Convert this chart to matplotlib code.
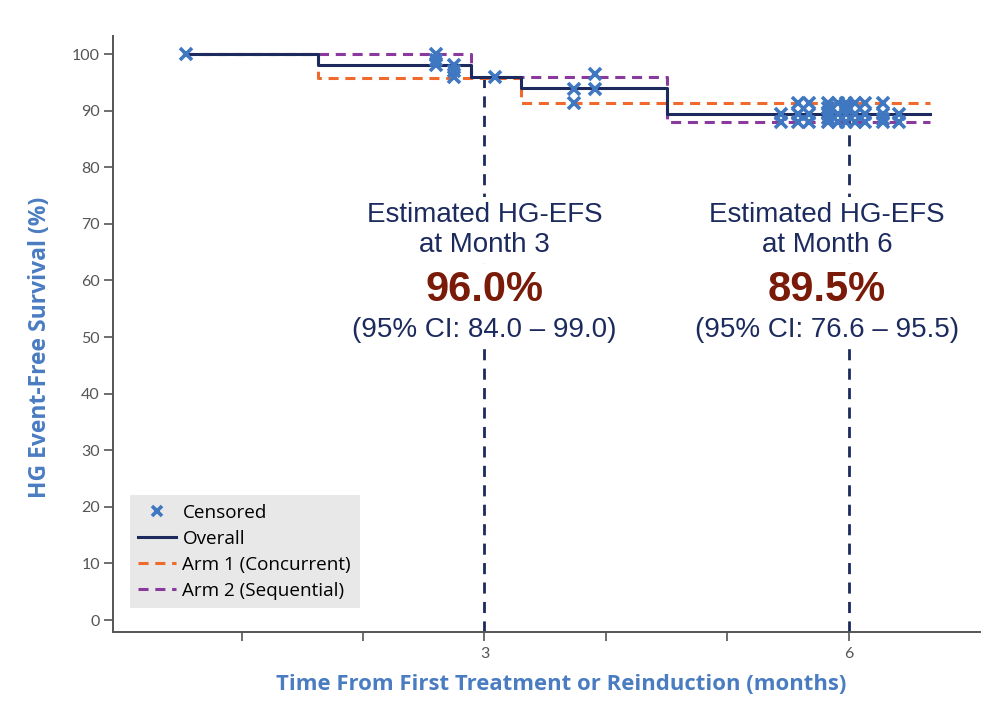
import matplotlib.pyplot as plt
from matplotlib.lines import Line2D

# Kaplan-Meier steps (months, % event-free)
overall_t = [0.53, 1.63, 2.89, 3.30, 4.50, 6.67]
overall_v = [100, 98.0, 96.0, 94.0, 89.5, 89.5]

arm1_t = [0.53, 1.63, 3.30, 6.67]
arm1_v = [100, 95.8, 91.3, 91.3]

arm2_t = [0.53, 2.89, 4.50, 6.67]
arm2_v = [100, 96.0, 88.0, 88.0]

# censored observations
censor_t = [0.54,
            2.60, 2.60, 2.60,
            2.75, 2.75, 2.75,
            3.09,
            3.74, 3.74,
            3.91, 3.91,
            5.44, 5.44,
            5.58, 5.58, 5.58,
            5.67, 5.67, 5.67,
            5.83, 5.83, 5.83, 5.83, 5.83,
            5.91, 5.91, 5.91,
            5.98, 5.98, 5.98, 5.98,
            6.05, 6.05, 6.05,
            6.13, 6.13, 6.13,
            6.28, 6.28, 6.28, 6.28,
            6.41, 6.41]
censor_v = [100,
            100, 99.0, 98.0,
            98.0, 97.0, 95.9,
            95.9,
            93.9, 91.3,
            96.4, 93.9,
            89.5, 88.0,
            91.3, 89.5, 88.0,
            91.3, 89.5, 88.0,
            91.3, 90.4, 89.5, 88.7, 88.0,
            91.3, 89.5, 88.0,
            91.3, 90.4, 89.5, 88.0,
            91.3, 89.5, 88.0,
            91.3, 89.5, 88.0,
            91.3, 89.5, 88.6, 88.0,
            89.5, 88.0]

# landmark estimates
mark_t = [3, 6]
mark_top = [96.3, 92.4]
mark_text_t = [3.0, 5.82]
mark_month = ['3', '6']
mark_est = ['96.0%', '89.5%']
mark_ci = ['(95% CI: 84.0 \u2013 99.0)', '(95% CI: 76.6 \u2013 95.5)']

navy = '#1c2a5e'
orange = '#ef6a2c'
purple = '#8a3a9c'
blue = '#3f78c0'
label_blue = '#4a7cc2'
red = '#7a1a08'
gray = '#555555'

fig = plt.figure(figsize=(9.96, 7.06), dpi=100)
ax = fig.add_axes([0.1135, 0.1048, 0.8705, 0.8442])

ax.plot(arm1_t, arm1_v, drawstyle='steps-post', color=orange, lw=2.2,
        dashes=(3.3, 2.2), zorder=2)
ax.plot(arm2_t, arm2_v, drawstyle='steps-post', color=purple, lw=2.2,
        dashes=(3.3, 2.2), zorder=2)
ax.plot(overall_t, overall_v, drawstyle='steps-post', color=navy, lw=2.2, zorder=3)
ax.plot(censor_t, censor_v, ls='none', marker='x', color=blue, ms=8, mew=2.6, zorder=4)

ax.vlines(mark_t, -2.12, mark_top, colors=navy, lw=2, linestyles=(0, (4, 3)), zorder=1)

box = dict(facecolor='white', edgecolor='none', pad=3.5)
for t, m, e, ci in zip(mark_text_t, mark_month, mark_est, mark_ci):
    ax.text(t, 71.6, 'Estimated HG-EFS', ha='center', va='center', fontsize=20,
            color=navy, family='Liberation Sans', bbox=box, zorder=5)
    ax.text(t, 66.3, 'at Month ' + m, ha='center', va='center', fontsize=20,
            color=navy, family='Liberation Sans', bbox=box, zorder=5)
    ax.text(t, 58.3, e, ha='center', va='center', fontsize=30, fontweight='bold',
            color=red, family='Liberation Sans', bbox=box, zorder=5)
    ax.text(t, 51.3, ci, ha='center', va='center', fontsize=20,
            color=navy, family='Liberation Sans', bbox=box, zorder=5)

ax.set_xlim(-0.058, 7.08)
ax.set_ylim(-2.12, 103.2)
ax.set_yticks(range(0, 101, 10))
ax.set_xticks([3, 6])
ax.set_xticklabels(['3', '6'])
ax.set_xticks([1, 2, 4, 5], minor=True)

for s in ['top', 'right']:
    ax.spines[s].set_visible(False)
for s in ['left', 'bottom']:
    ax.spines[s].set_color(gray)
    ax.spines[s].set_linewidth(1.4)

ax.tick_params(axis='y', length=6.5, width=1.2, color=gray, labelcolor=gray,
               labelsize=11.5, pad=3)
ax.tick_params(axis='x', which='both', length=6.5, width=1.2, color=gray,
               labelcolor=gray, labelsize=11.5, pad=4)
for lab in ax.get_xticklabels() + ax.get_yticklabels():
    lab.set_family('Lato')

ax.set_xlabel('Time From First Treatment or Reinduction (months)', fontsize=15.9,
              fontweight='bold', color=label_blue, family='Open Sans')
ax.xaxis.set_label_coords(0.517, -0.07)
ax.set_ylabel('HG Event-Free Survival (%)', fontsize=16.5, fontweight='bold',
              color=label_blue, family='Open Sans')
ax.yaxis.set_label_coords(-0.07, 0.478)

handles = [Line2D([], [], ls='none', marker='x', color=blue, ms=7, mew=2.6),
           Line2D([], [], color=navy, lw=2.2),
           Line2D([], [], color=orange, lw=2.2, dashes=(3.3, 2.2)),
           Line2D([], [], color=purple, lw=2.2, dashes=(3.3, 2.2))]
labels = ['Censored', 'Overall', 'Arm 1 (Concurrent)', 'Arm 2 (Sequential)']
leg = ax.legend(handles, labels, loc='lower left', bbox_to_anchor=(0.019, 0.04),
                prop={'family': 'Open Sans', 'size': 13.6}, frameon=True, fancybox=False,
                facecolor='#e8e8e8', edgecolor='none', framealpha=1,
                handlelength=2.0, handletextpad=0.35, labelspacing=0.42,
                borderpad=0.45, borderaxespad=0)
leg.set_zorder(6)

fig.savefig('out.png', dpi=100)
